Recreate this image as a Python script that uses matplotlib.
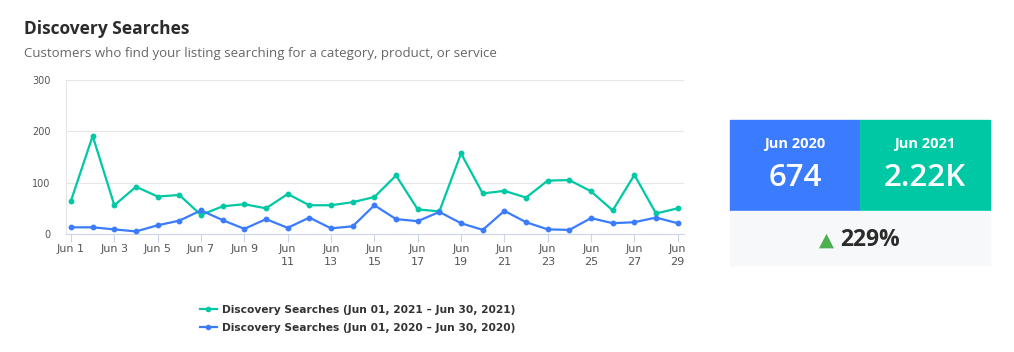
import matplotlib
matplotlib.use("Agg")
import matplotlib.pyplot as plt
from matplotlib.lines import Line2D
from matplotlib.patches import Rectangle

days = list(range(1, 30))
searches_2021 = [65, 191, 56, 92, 73, 76, 37, 54, 58, 50, 78, 56, 56, 62, 72,
                 114, 48, 44, 157, 79, 84, 71, 104, 105, 83, 46, 115, 40, 50]
searches_2020 = [13, 13, 9, 5, 17, 26, 46, 27, 10, 29, 12, 32, 11, 15, 56,
                 29, 25, 43, 21, 8, 45, 23, 9, 8, 31, 21, 23, 32, 21]
tick_days = list(range(1, 30, 2))
tick_labels = ["Jun 1", "Jun 3", "Jun 5", "Jun 7", "Jun 9", "Jun\n11", "Jun\n13",
               "Jun\n15", "Jun\n17", "Jun\n19", "Jun\n21", "Jun\n23", "Jun\n25",
               "Jun\n27", "Jun\n29"]
y_ticks = [0, 100, 200, 300]
legend_labels = ["Discovery Searches (Jun 01, 2021 \u2013 Jun 30, 2021)",
                 "Discovery Searches (Jun 01, 2020 \u2013 Jun 30, 2020)"]
title = "Discovery Searches"
subtitle = "Customers who find your listing searching for a category, product, or service"
kpi_prev_label, kpi_prev_value = "Jun 2020", "674"
kpi_cur_label, kpi_cur_value = "Jun 2021", "2.22K"
kpi_change = "229%"

GREEN = "#00C8A5"
BLUE = "#3B7CFF"

W, H = 1014, 352
fig = plt.figure(figsize=(W / 100, H / 100), dpi=100)
fig.patch.set_facecolor("white")

def fx(px):
    return px / W

def fy(py):
    return 1 - py / H

ff = ["Open Sans", "DejaVu Sans"]

# titles
fig.text(fx(24), fy(29), title, fontsize=12.5, fontweight="bold", color="#2b2b2b",
         family=ff, va="center", ha="left")
fig.text(fx(24), fy(54), subtitle, fontsize=9.5, color="#666666",
         family=ff, va="center", ha="left")

# chart axes
left, right, top, bottom = 65.7, 684, 80, 234
ax = fig.add_axes([fx(left), fy(bottom), (right - left) / W, (bottom - top) / H])
ax.plot(days, searches_2021, color=GREEN, lw=1.6, marker="o", ms=3.2, zorder=3)
ax.plot(days, searches_2020, color=BLUE, lw=1.6, marker="o", ms=3.2, zorder=3)
ax.set_xlim(0.755, 29.29)
ax.set_ylim(0, 300)
ax.set_yticks(y_ticks)
ax.set_yticklabels([str(v) for v in y_ticks])
ax.set_xticks(tick_days)
ax.set_xticklabels(tick_labels)
ax.grid(axis="y", color="#e6e6e6", lw=0.8)
ax.set_axisbelow(True)
for s in ["top", "right"]:
    ax.spines[s].set_visible(False)
ax.spines["bottom"].set_color("#ccd6eb")
ax.spines["left"].set_color("#e6e6e6")
ax.spines["left"].set_linewidth(0.8)
ax.tick_params(axis="x", length=5.5, color="#ccd6eb", labelsize=8, labelcolor="#555555", pad=2)
ax.tick_params(axis="y", length=0, labelsize=7, labelcolor="#555555", pad=11)
for lab in ax.get_xticklabels():
    lab.set_linespacing(1.3)

# legend
handles = [Line2D([], [], color=GREEN, lw=1.6, marker="o", ms=3),
           Line2D([], [], color=BLUE, lw=1.6, marker="o", ms=3)]
fig.legend(handles, legend_labels, loc="upper left", bbox_to_anchor=(fx(190), fy(295)),
           frameon=False, handlelength=1.6, handletextpad=0.45, labelspacing=0.75,
           prop={"family": "DejaVu Sans", "weight": "bold", "size": 7.7},
           labelcolor="#333333")

# KPI panel
bx0, bmid, bx1 = 730, 860, 990
by0, bymid, by1 = 120, 210.5, 265
fig.patches.append(Rectangle((fx(bx0), fy(bymid)), (bmid - bx0) / W, (bymid - by0) / H,
                             transform=fig.transFigure, color=BLUE, zorder=0))
fig.patches.append(Rectangle((fx(bmid), fy(bymid)), (bx1 - bmid) / W, (bymid - by0) / H,
                             transform=fig.transFigure, color=GREEN, zorder=0))
fig.patches.append(Rectangle((fx(bx0), fy(by1)), (bx1 - bx0) / W, (by1 - bymid) / H,
                             transform=fig.transFigure, color="#F7F8FA", zorder=0))
fig.text(fx((bx0 + bmid) / 2), fy(144), kpi_prev_label, color="white", fontsize=10.5,
         fontweight="bold", family=ff, ha="center", va="center")
fig.text(fx((bx0 + bmid) / 2), fy(178), kpi_prev_value, color="white", fontsize=22.5,
         fontweight="semibold", family=ff, ha="center", va="center")
fig.text(fx((bmid + bx1) / 2), fy(144), kpi_cur_label, color="white", fontsize=10.5,
         fontweight="bold", family=ff, ha="center", va="center")
fig.text(fx((bmid + bx1) / 2), fy(178), kpi_cur_value, color="white", fontsize=22.5,
         fontweight="semibold", family=ff, ha="center", va="center")
fig.text(fx(826), fy(240), "\u25B2", color="#4CAF50", fontsize=14,
         family=["DejaVu Sans"], ha="center", va="center")
fig.text(fx(840), fy(240), kpi_change, color="#2b2b2b", fontsize=16.5, fontweight="bold",
         family=ff, ha="left", va="center")

fig.savefig("out.png", dpi=100, facecolor="white")
